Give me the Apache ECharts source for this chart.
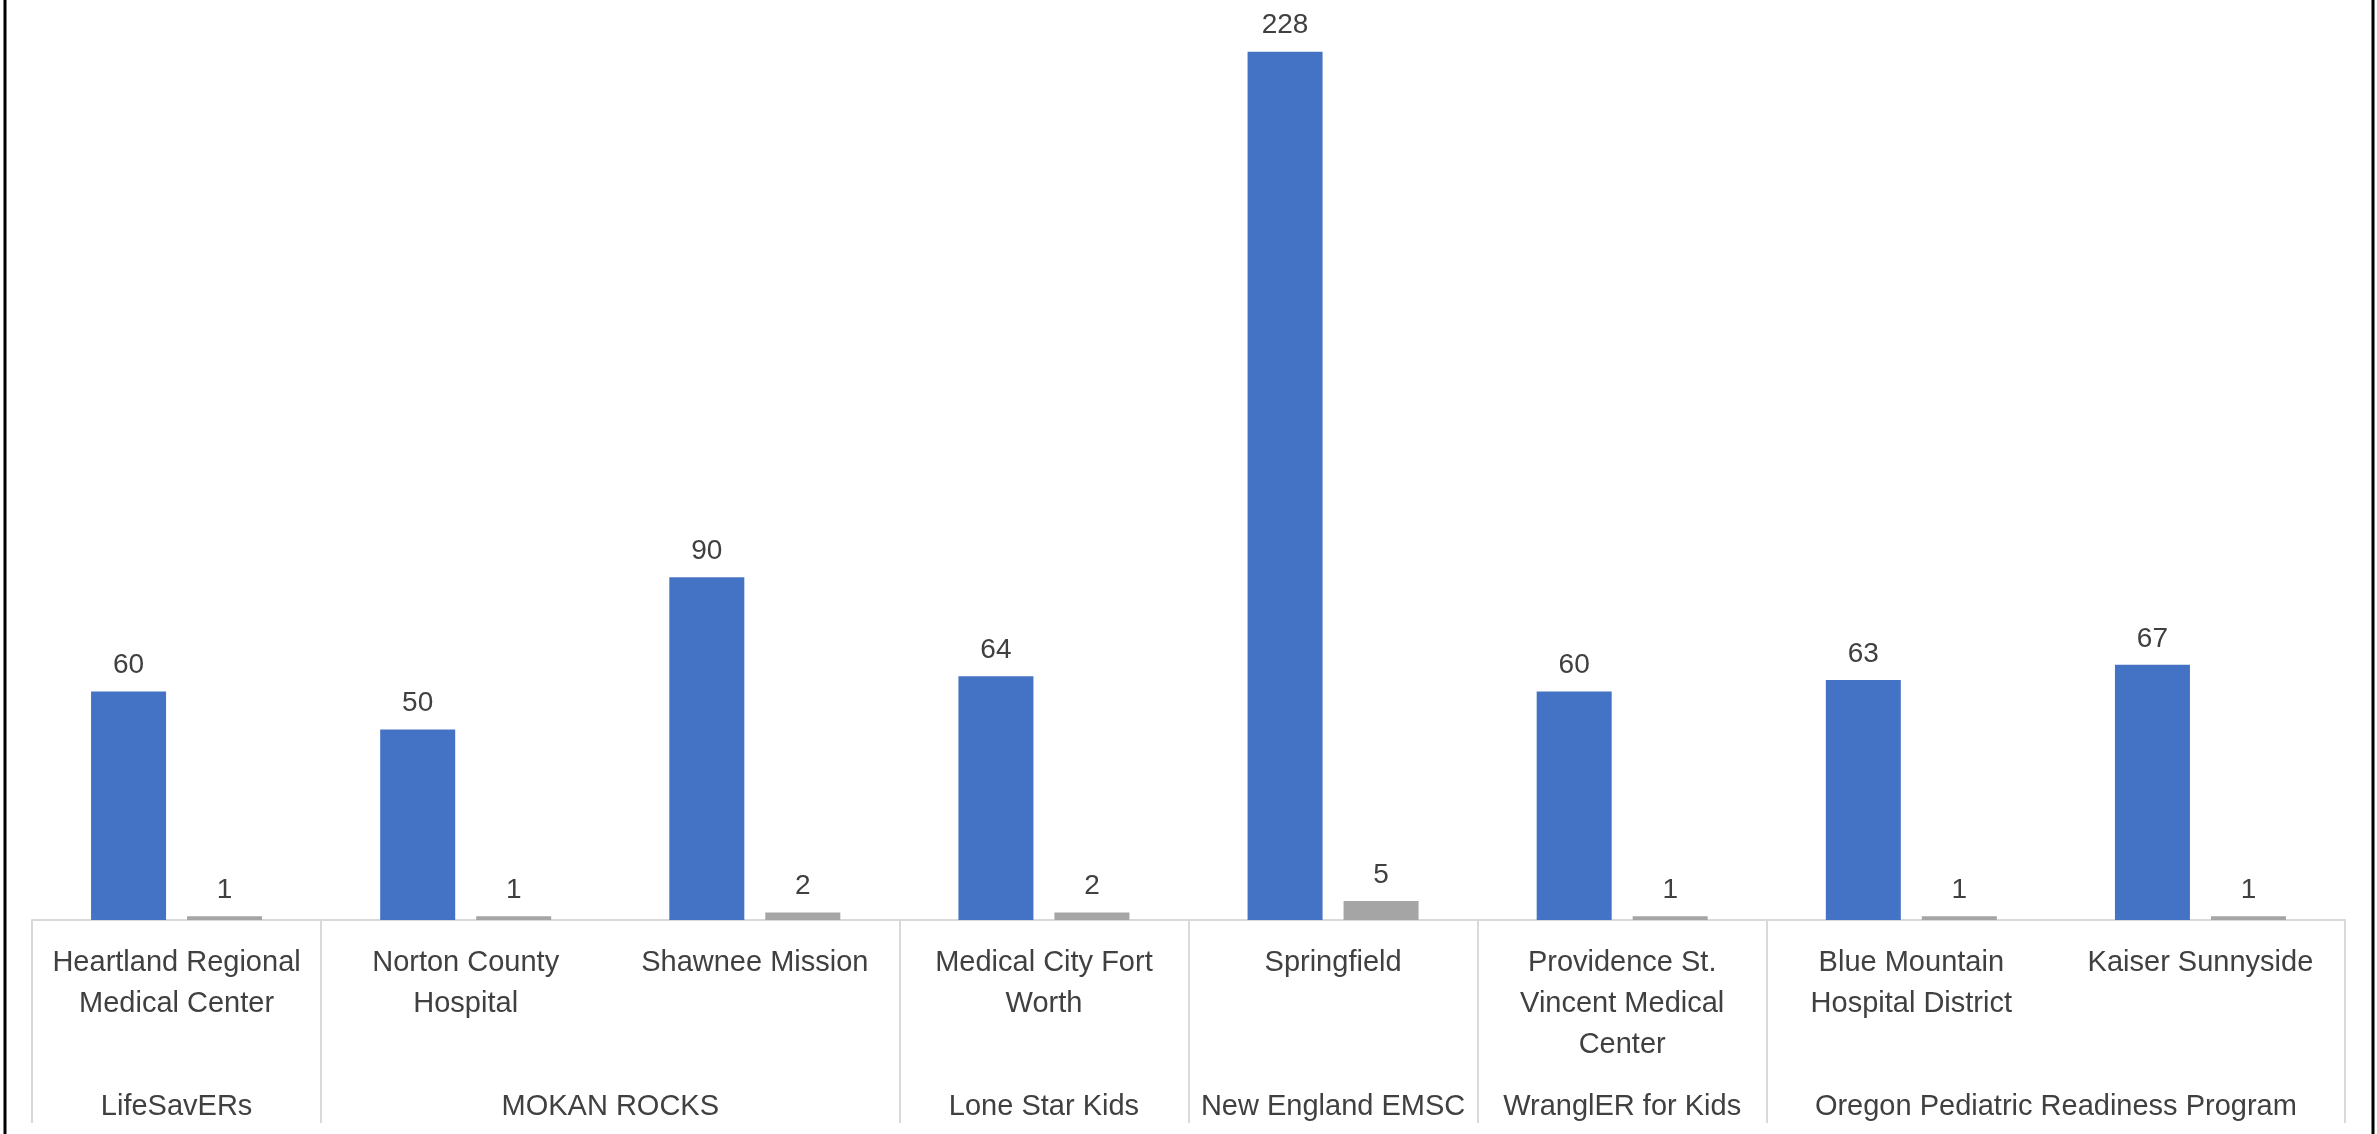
<!DOCTYPE html>
<html><head><meta charset="utf-8">
<script src="https://cdn.jsdelivr.net/npm/echarts@6/dist/echarts.min.js"></script>
<style>html,body{margin:0;padding:0;background:#fff}#c{width:2377px;height:1134px}</style>
</head><body><div id="c"></div>
<script>
const categories = ['Heartland Regional\nMedical Center', 'Norton County\nHospital', 'Shawnee Mission', 'Medical City Fort\nWorth', 'Springfield', 'Providence St.\nVincent Medical\nCenter', 'Blue Mountain\nHospital District', 'Kaiser Sunnyside'];
const groupNames = ['LifeSavERs', 'MOKAN ROCKS', 'Lone Star Kids', 'New England EMSC', 'WranglER for Kids', 'Oregon Pediatric Readiness Program'];
const groupSizes = [1, 2, 1, 1, 1, 2];
const seriesA = [60, 50, 90, 64, 228, 60, 63, 67];
const seriesB = [1, 1, 2, 2, 5, 1, 1, 1];

const FONT = '"Liberation Sans", Arial, sans-serif';
const TXT = '#404040';
const groupStarts = [];
const groupCenters = [];
let acc = 0;
groupSizes.forEach(s => { groupStarts.push(acc); groupCenters.push(acc + s / 2); acc += s; });

const chart = echarts.init(document.getElementById('c'));
chart.setOption({
  animation: false,
  backgroundColor: '#fff',
  grid: { left: 32, right: 32, top: 6, bottom: 214, containLabel: false },
  xAxis: [
    {
      type: 'category', data: categories, boundaryGap: true, position: 'bottom',
      axisLine: { show: true, lineStyle: { color: '#d9d9d9', width: 2 } },
      axisTick: { show: true, length: 203, interval: (i) => groupStarts.indexOf(i) >= 0, lineStyle: { color: '#d9d9d9', width: 2 } },
      axisLabel: { interval: 0, color: TXT, fontSize: 29, lineHeight: 41, margin: 22, fontFamily: FONT }
    },
    {
      type: 'value', min: 0, max: acc, interval: 0.5, position: 'bottom',
      axisLine: { show: false }, axisTick: { show: false }, splitLine: { show: false },
      axisLabel: {
        color: TXT, fontSize: 29, lineHeight: 41, margin: 166, fontFamily: FONT,
        showMinLabel: true, showMaxLabel: true,
        formatter: (v) => { const k = groupCenters.findIndex(c => Math.abs(c - v) < 1e-6); return k >= 0 ? groupNames[k] : ''; }
      }
    }
  ],
  yAxis: { type: 'value', min: 0, max: 240, show: false, splitLine: { show: false } },
  series: [
    { name: 'Series 1', type: 'bar', xAxisIndex: 0, data: seriesA, barWidth: 75, barGap: '28%',
      itemStyle: { color: '#4472c4' },
      label: { show: true, position: 'top', distance: 12, color: TXT, fontSize: 28, fontFamily: FONT } },
    { name: 'Series 2', type: 'bar', xAxisIndex: 0, data: seriesB, barWidth: 75, barGap: '28%',
      itemStyle: { color: '#a5a5a5' },
      label: { show: true, position: 'top', distance: 12, color: TXT, fontSize: 28, fontFamily: FONT } }
  ],
  graphic: [
    { type: 'line', shape: { x1: 5, y1: 0, x2: 5, y2: 1134 }, style: { stroke: '#000', lineWidth: 3 } },
    { type: 'line', shape: { x1: 2373, y1: 0, x2: 2373, y2: 1134 }, style: { stroke: '#000', lineWidth: 3 } }
  ]
});
</script></body></html>
